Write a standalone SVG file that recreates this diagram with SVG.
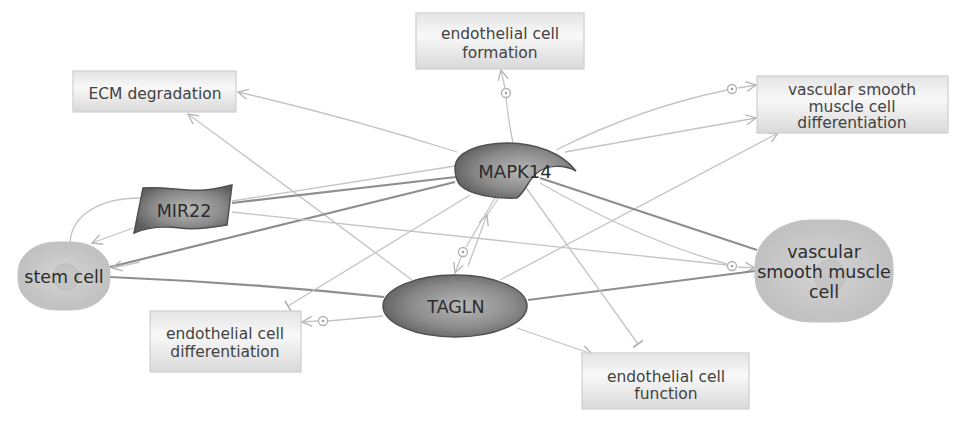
<svg xmlns="http://www.w3.org/2000/svg" xmlns:xlink="http://www.w3.org/1999/xlink" width="969" height="425" viewBox="0 0 969 425">
<style>
  .thin { fill: none; stroke: #c4c4c4; stroke-width: 1.3; }
  .thick { fill: none; stroke: #8e8e8e; stroke-width: 2.2; }
  .box { fill: url(#boxGrad); stroke: #cfcfcf; stroke-width: 1.2; }
  .bt { font-family: "DejaVu Sans", "Liberation Sans", sans-serif; font-size: 15.5px; fill: #424242; text-anchor: middle; }
  .nt { font-family: "DejaVu Sans", "Liberation Sans", sans-serif; font-size: 17.5px; fill: #2c2c2c; text-anchor: middle; }
  .dark { fill: url(#darkGrad); stroke: #505050; stroke-width: 1.5; }
  .cell { fill: url(#cellGrad); stroke: #c4c4c4; stroke-width: 1; }
  .nuc { fill: #c2c2c2; stroke: #b8b8b8; stroke-width: 1; opacity: 0.8; }
  .op circle.o { fill: #ffffff; stroke: #b0b0b0; stroke-width: 1.3; }
  .op circle.d { fill: #a0a0a0; }
</style>
<defs>
  <linearGradient id="boxGrad" x1="0" y1="0" x2="0" y2="1">
    <stop offset="0" stop-color="#e4e4e4"/>
    <stop offset="0.4" stop-color="#f8f8f8"/>
    <stop offset="1" stop-color="#d9d9d9"/>
  </linearGradient>
  <radialGradient id="darkGrad" cx="0.55" cy="0.5" r="0.6">
    <stop offset="0" stop-color="#b8b8b8"/>
    <stop offset="0.6" stop-color="#8a8a8a"/>
    <stop offset="1" stop-color="#5c5c5c"/>
  </radialGradient>
  <radialGradient id="cellGrad" cx="0.5" cy="0.5" r="0.6">
    <stop offset="0" stop-color="#d4d4d4"/>
    <stop offset="1" stop-color="#bdbdbd"/>
  </radialGradient>
  <marker id="arr" viewBox="0 0 12 12" refX="11" refY="6" markerWidth="12" markerHeight="12" markerUnits="userSpaceOnUse" orient="auto">
    <path d="M1,1 L11,6 L1,11" fill="none" stroke="#b4b4b4" stroke-width="1.3"/>
  </marker>
  <marker id="bar" viewBox="0 0 4 12" refX="2" refY="6" markerWidth="4" markerHeight="12" markerUnits="userSpaceOnUse" orient="auto">
    <path d="M2,0 L2,12" stroke="#adadad" stroke-width="1.6"/>
  </marker>
  <g id="op" class="op"><circle class="o" r="4.5"/><circle class="d" r="1.3"/></g>
</defs>

<rect width="969" height="425" fill="#ffffff"/>

<g id="connectors">
  <path class="thin" d="M457,152 Q350,118 238,92" marker-end="url(#arr)"/>
  <path class="thin" d="M412,280 Q305,200 188,114" marker-end="url(#arr)"/>
  <path class="thin" d="M513,143 Q508,118 506,98"/>
  <use xlink:href="#op" href="#op" x="506" y="93"/>
  <path class="thin" d="M505,88 L501,70" marker-end="url(#arr)"/>
  <path class="thin" d="M556,150 Q640,108 727,90"/>
  <use xlink:href="#op" href="#op" x="732" y="89"/>
  <path class="thin" d="M738,88 L756,85" marker-end="url(#arr)"/>
  <path class="thin" d="M565,152 L756,118" marker-end="url(#arr)"/>
  <path class="thin" d="M500,280 L778,133" marker-end="url(#arr)"/>
  <path class="thick" d="M455,182 L110,267"/>
  <path class="thin" d="M140,262 L112,268" marker-end="url(#arr)"/>
  <path class="thick" d="M232,203 L456,177"/>
  <path class="thin" d="M232,201 L455,166"/>
  <path class="thin" d="M232,212 L727,265"/>
  <path class="thin" d="M540,183 Q640,240 727,264"/>
  <use xlink:href="#op" href="#op" x="732" y="266"/>
  <path class="thin" d="M738,267 L755,268" marker-end="url(#arr)"/>
  <path class="thick" d="M540,178 L757,250"/>
  <path class="thick" d="M528,300 L755,271"/>
  <path class="thick" d="M110,277 Q250,283 384,297"/>
  <path class="thin" d="M383,316 L328,321"/>
  <use xlink:href="#op" href="#op" x="323" y="321"/>
  <path class="thin" d="M318,321 L302,322" marker-end="url(#arr)"/>
  <path class="thin" d="M470,195 L288,306" marker-end="url(#bar)"/>
  <path class="thin" d="M495,198 L466,247"/>
  <use xlink:href="#op" href="#op" x="463" y="252"/>
  <path class="thin" d="M461,257 L455,273" marker-end="url(#arr)"/>
  <path class="thin" d="M468,266 L487,215" marker-end="url(#arr)"/>
  <path class="thin" d="M487,215 L498,199"/>
  <path class="thin" d="M522,182 L638,344" marker-end="url(#bar)"/>
  <path class="thin" d="M517,328 L592,354" marker-end="url(#arr)"/>
  <path class="thin" d="M133,228 L92,243" marker-end="url(#arr)"/>
  <path class="thin" d="M70,242 C72,215 100,198 140,198"/>
</g>

<g id="node-ecm">
  <rect class="box" x="73" y="71" width="163" height="41"/>
  <text class="bt" x="155" y="99">ECM degradation</text>
</g>
<g id="node-ec-formation">
  <rect class="box" x="416" y="13" width="168" height="56"/>
  <text class="bt" x="500" y="39">endothelial cell</text>
  <text class="bt" x="500" y="58">formation</text>
</g>
<g id="node-vsmc-diff">
  <rect class="box" x="757" y="76" width="191" height="57"/>
  <text class="bt" x="852" y="95">vascular smooth</text>
  <text class="bt" x="852" y="111.5">muscle cell</text>
  <text class="bt" x="852" y="128">differentiation</text>
</g>
<g id="node-ec-diff">
  <rect class="box" x="150" y="311" width="151" height="61"/>
  <text class="bt" x="225" y="339">endothelial cell</text>
  <text class="bt" x="225" y="357">differentiation</text>
</g>
<g id="node-ec-function">
  <rect class="box" x="582" y="353" width="167" height="56"/>
  <text class="bt" x="666" y="382">endothelial cell</text>
  <text class="bt" x="666" y="399">function</text>
</g>
<g id="node-stem-cell">
  <rect class="cell" x="18" y="242" width="92" height="68" rx="38" ry="30"/>
  <circle class="nuc" cx="66" cy="277" r="13"/>
  <text class="nt" x="64" y="283">stem cell</text>
</g>
<g id="node-vsmc">
  <rect class="cell" x="755" y="220" width="138" height="102" rx="56" ry="45"/>
  <circle class="nuc" cx="830" cy="276" r="16"/>
  <text class="nt" x="824" y="258">vascular</text>
  <text class="nt" x="824" y="278">smooth muscle</text>
  <text class="nt" x="824" y="298">cell</text>
</g>
<g id="node-mir22">
  <path class="dark" d="M143,188 C165,186 185,192 205,190 C218,189 226,186 232,185 L227,225 C210,228 195,230 180,228 C165,226 150,226 134,233 Z"/>
  <text class="nt" x="184" y="217">MIR22</text>
</g>
<g id="node-mapk14">
  <path class="dark" d="M455,168 C455,152 480,143 507,143 C536,143 562,153 576,171 C563,164 547,165 537,173 C528,180 526,191 517,198 C495,199 470,195 460,185 C456,180 455,174 455,168 Z"/>
  <text class="nt" x="515" y="178" style="font-size:18px">MAPK14</text>
</g>
<g id="node-tagln">
  <ellipse class="dark" cx="455" cy="306" rx="72" ry="31"/>
  <text class="nt" x="456" y="313">TAGLN</text>
</g>
</svg>
